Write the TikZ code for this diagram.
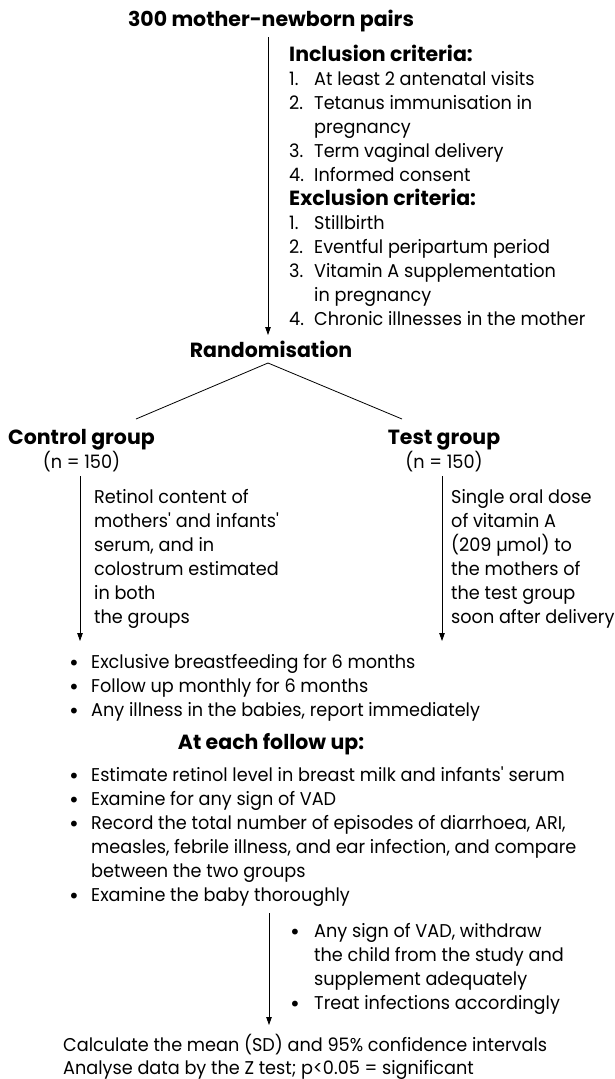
\documentclass[tikz,border=0pt]{standalone}
\usepackage{fontspec}
\setmainfont{Poppins}[FakeStretch=0.955]
\newfontfamily\hdfont{Poppins}
\newfontfamily\dvsfont{DejaVu Sans}
\usetikzlibrary{arrows.meta}
\newcommand{\mynum}[1]{\makebox[25pt][l]{#1}}
\newcommand{\mydot}{\raisebox{-2.5pt}{\dvsfont\fontsize{20}{24}\selectfont •}}
\newcommand{\myblt}{\makebox[23pt][l]{\mydot}}
\newcommand{\mybltb}{\makebox[25pt][l]{\mydot}}
\newcommand{\hdstyle}{\hdfont\fontsize{20.5}{24}\selectfont\bfseries}
\newcommand{\sq}{\textquotesingle}
\tikzset{
  txt/.style={inner sep=0pt, font=\fontsize{18.5}{24}\selectfont, anchor=base west},
  hd/.style={inner sep=0pt, font=\hdstyle, anchor=base},
  arr/.style={line width=0.8pt, -{Triangle[length=8pt,width=5.5pt]}},
  ln/.style={line width=0.8pt}
}
\begin{document}
\begin{tikzpicture}[x=1pt,y=-1pt]
\useasboundingbox (0,0) rectangle (614,1079);
\fill[white] (0,0) rectangle (614,1079);
% title
\node[hd] (title) at (271,26) {300 mother-newborn pairs};
\coordinate (a1s) at (268,37);
\coordinate (a1e) at (268,335);
\draw[arr] (a1s) -- (a1e);
% criteria
\node[txt] (crit) at (289,61) {\begin{tabular}[t]{@{}l@{}l@{}}
\multicolumn{2}{@{}l@{}}{\hdstyle Inclusion criteria:}\\
\mynum{1.}&At least 2 antenatal visits\\
\mynum{2.}&Tetanus immunisation in\\
&pregnancy\\
\mynum{3.}&Term vaginal delivery\\
\mynum{4.}&Informed consent\\
\multicolumn{2}{@{}l@{}}{\hdstyle Exclusion criteria:}\\
\mynum{1.}&Stillbirth\\
\mynum{2.}&Eventful peripartum period\\
\mynum{3.}&Vitamin A supplementation\\
&in pregnancy\\
\mynum{4.}&Chronic illnesses in the mother
\end{tabular}};
% randomisation
\node[hd] (rand) at (271,357) {Randomisation};
\coordinate (vtop) at (268,363);
\coordinate (vl) at (136,419);
\coordinate (vr) at (402,419);
\draw[ln] (vl) -- (vtop) -- (vr);
% groups
\node[hd] (ctrl) at (81.5,444) {\begin{tabular}[t]{@{}c@{}}Control group\\\normalfont\fontsize{18.5}{24}\selectfont (n = 150)\end{tabular}};
\node[hd] (test) at (444,444) {\begin{tabular}[t]{@{}c@{}}Test group\\\normalfont\fontsize{18.5}{24}\selectfont (n = 150)\end{tabular}};
\coordinate (l1s) at (80,476);
\coordinate (l1e) at (80,641);
\coordinate (r1s) at (442,476);
\coordinate (r1e) at (442,641);
\draw[arr] (l1s) -- (l1e);
\draw[arr] (r1s) -- (r1e);
\node[txt] (ltxt) at (94,503) {\begin{tabular}[t]{@{}l@{}}
Retinol content of\\
mothers\sq{} and infants\sq\\
serum, and in\\
colostrum estimated\\
in both\\
the groups
\end{tabular}};
\node[txt] (rtxt) at (451,503) {\begin{tabular}[t]{@{}l@{}}
Single oral dose\\
of vitamin A\\
(209 µmol) to\\
the mothers of\\
the test group\\
soon after delivery
\end{tabular}};
% bullets 1
\node[txt] (b1) at (68,668) {\begin{tabular}[t]{@{}l@{}l@{}}
\myblt&Exclusive breastfeeding for 6 months\\
\myblt&Follow up monthly for 6 months\\
\myblt&Any illness in the babies, report immediately
\end{tabular}};
\node[hd] (each) at (271,749) {At each follow up:};
\node[txt] (b2) at (68,781) {\begin{tabular}[t]{@{}l@{}l@{}}
\myblt&Estimate retinol level in breast milk and infants\sq{} serum\\
\myblt&Examine for any sign of VAD\\
\myblt&Record the total number of episodes of diarrhoea, ARI,\\
&measles, febrile illness, and ear infection, and compare\\
&between the two groups\\
\myblt&Examine the baby thoroughly
\end{tabular}};
\coordinate (a3s) at (269,913);
\coordinate (a3e) at (269,1025);
\draw[arr] (a3s) -- (a3e);
\node[txt] (b3) at (289,937) {\begin{tabular}[t]{@{}l@{}l@{}}
\mybltb&Any sign of VAD, withdraw\\
&the child from the study and\\
&supplement adequately\\
\mybltb&Treat infections accordingly
\end{tabular}};
\node[txt] (fin) at (63,1051) {\fontsize{18.5}{23}\selectfont\begin{tabular}[t]{@{}l@{}}
Calculate the mean (SD) and 95\% confidence intervals\\
Analyse data by the Z test; p<0.05 = significant
\end{tabular}};
\end{tikzpicture}
\end{document}
